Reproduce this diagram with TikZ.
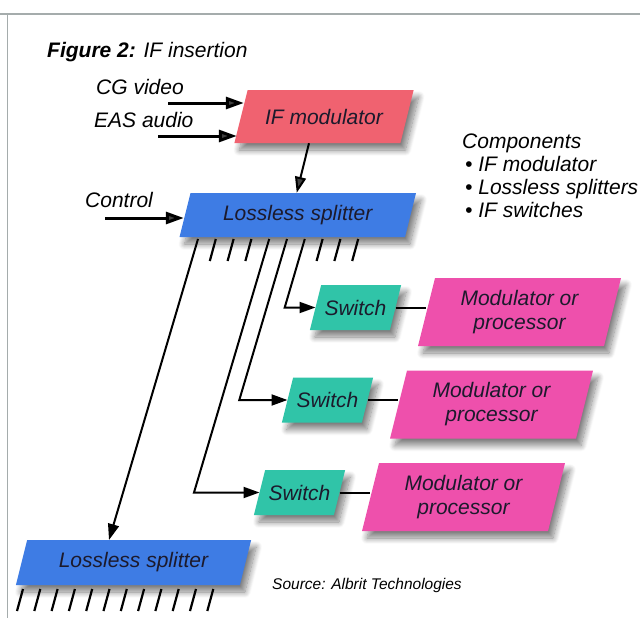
\documentclass[tikz,border=0pt]{standalone}
\usepackage{fontspec}
\setmainfont{Liberation Sans}
\usetikzlibrary{arrows.meta,calc,shadows.blur}

\definecolor{modred}{RGB}{240,98,112}
\definecolor{splitblue}{RGB}{62,124,228}
\definecolor{switchteal}{RGB}{48,196,168}
\definecolor{procpink}{RGB}{238,80,172}
\definecolor{inktext}{RGB}{28,26,44}
\definecolor{framegray}{RGB}{165,172,172}

% parallelogram block: name, centre x, centre y, mid width, height, fill, label
\newcommand\pgram[7]{%
  \fill[#6, softshadow]
    ({#2-#4/2-#5/8},{#3+#5/2}) -- ({#2+#4/2-#5/8},{#3+#5/2}) --
    ({#2+#4/2+#5/8},{#3-#5/2}) -- ({#2-#4/2+#5/8},{#3-#5/2}) -- cycle;
  \node[blocklabel, minimum width=#4pt, minimum height=#5pt] (#1) at (#2,#3) {#7};}

\begin{document}
\begin{tikzpicture}[x=1pt,y=-1pt,
  softshadow/.style={blur shadow={shadow xshift=5pt, shadow yshift=-7pt,
      shadow blur radius=6pt, shadow blur steps=12, shadow opacity=50}},
  blocklabel/.style={inner sep=0pt, draw=none, align=center, text=inktext,
      font=\fontsize{21}{24}\selectfont\itshape},
  caption/.style={inner sep=0pt, anchor=base west,
      font=\fontsize{21}{23}\selectfont\itshape},
  feed/.style={line width=3pt, -{Triangle[length=18pt,width=12pt]}},
  link/.style={line width=2pt},
  linkarrow/.style={line width=2pt, -{Triangle[length=16pt,width=11pt]}},
  tick/.style={line width=2.2pt}]

\useasboundingbox (0,0) rectangle (640,618);

% page frame
\draw[framegray, line width=1.6pt] (0,14) -- (640,14);
\draw[framegray, line width=1.6pt] (7.5,14) -- (7.5,618);

% title and captions
\node[caption] (title) at (47,58) {\textbf{Figure 2:} IF insertion};
\node[caption] (cgtext) at (96,95) {CG video};
\node[caption] (eastext) at (94,127) {EAS audio};
\node[caption] (ctltext) at (85,207) {Control};

\node[caption] (comp0) at (462,148) {Components};
\node[caption] (comp1) at (465,171) {• IF modulator};
\node[caption] (comp2) at (465,194) {• Lossless splitters};
\node[caption] (comp3) at (465,217) {• IF switches};

\node[inner sep=0pt, anchor=base west, font=\fontsize{15.5}{17}\selectfont\itshape]
  (source) at (272,589) {Source: Albrit Technologies};

% connector ends that are not on a block
\coordinate (cg) at (168,103);
\coordinate (eas) at (158,136);
\coordinate (ctl) at (105,218);
\foreach \i in {0,...,9} { \coordinate (t\i) at ({198+17.8*\i},239); }

% long splitter outputs (drawn under the blocks)
\draw[linkarrow] (t0) -- (109,540);
\draw[linkarrow] (t4) -- (194,492.5) -- (259.5,492.5);
\draw[linkarrow] (t5) -- (239.3,400) -- (287.5,400);
\draw[linkarrow] (t6) -- (284.7,307.5) -- (315.5,307.5);

% short splitter outputs
\foreach \i in {1,2,3,7,8,9} { \draw[tick] (t\i) -- ++(-6,22); }
\foreach \i in {0,...,11} { \draw[tick] ({23+17.3*\i},589) -- ++(-6,22); }

% blocks
\pgram{ifmod}{324}{116.5}{166}{53}{modred}{IF modulator}
\pgram{splitA}{297.75}{215}{225.5}{44}{splitblue}{Lossless splitter}
\pgram{swA}{355.5}{307.5}{80}{45}{switchteal}{Switch}
\pgram{swB}{327.5}{400}{80}{45}{switchteal}{Switch}
\pgram{swC}{299.5}{492.5}{80}{45}{switchteal}{Switch}
\pgram{procA}{519.5}{312}{186}{68}{procpink}{Modulator or\\processor}
\pgram{procB}{491.5}{404.5}{186}{68}{procpink}{Modulator or\\processor}
\pgram{procC}{463.5}{497}{186}{68}{procpink}{Modulator or\\processor}
\pgram{splitB}{133.5}{562.5}{224}{45}{splitblue}{Lossless splitter}

% inputs
\draw[feed] (cg) -- ($(cg -| ifmod.west)+(3,0)$);
\draw[feed] (eas) -- ($(eas -| ifmod.west)+(-4,0)$);
\draw[feed] (ctl) -- ($(ctl -| splitA.west)+(-1,0)$);

% modulator into splitter
\draw[linkarrow] ($(ifmod.south)+(-15,0)$) -- ($(splitA.north)+(-1,0)$);

% switches to processors
\draw[link] (swA.east) -- (swA.east -| procA.west);
\draw[link] (swB.east) -- (swB.east -| procB.west);
\draw[link] (swC.east) -- (swC.east -| procC.west);

\end{tikzpicture}
\end{document}
